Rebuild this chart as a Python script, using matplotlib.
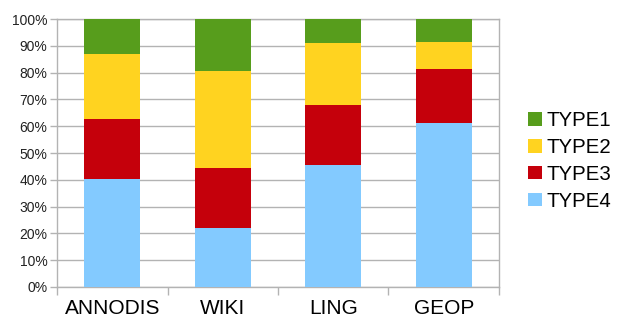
import numpy as np
import matplotlib.pyplot as plt
from matplotlib.ticker import PercentFormatter

plt.rcParams['font.family'] = ['Liberation Sans', 'DejaVu Sans']

corpora = ['ANNODIS', 'WIKI', 'LING', 'GEOP']
series = ['TYPE1', 'TYPE2', 'TYPE3', 'TYPE4']
type4 = [40.4, 22.1, 45.5, 61.2]
type3 = [22.2, 22.2, 22.3, 20.3]
type2 = [24.3, 36.4, 23.2, 9.9]
type1 = [13.1, 19.3, 9.0, 8.6]
colors = {'TYPE1': '#579d1c', 'TYPE2': '#ffd320',
          'TYPE3': '#c5000b', 'TYPE4': '#83caff'}

grid_col = '#b3b3b3'

fig = plt.figure(figsize=(6.17, 3.18), dpi=100)
ax = fig.add_axes([0.0924, 0.0975, 0.7163, 0.8425])

x = np.arange(len(corpora))
width = 0.51
stack = [('TYPE4', type4), ('TYPE3', type3), ('TYPE2', type2), ('TYPE1', type1)]
bottom = np.zeros(len(corpora))
handles = {}
for name, vals in stack:
    vals = np.array(vals)
    b = ax.bar(x, vals, width, bottom=bottom, color=colors[name],
               linewidth=0, zorder=3, label=name)
    handles[name] = b
    bottom += vals

ax.set_xlim(-0.5, len(corpora) - 0.5)
ax.set_ylim(0, 100)
ax.set_yticks(np.arange(0, 101, 10))
ax.yaxis.set_major_formatter(PercentFormatter(decimals=0))
ax.grid(axis='y', color=grid_col, linewidth=1, zorder=0)

ax.set_xticks(x)
ax.set_xticklabels(corpora, fontsize=15)
ax.set_xticks(np.arange(-0.5, len(corpora), 1), minor=True)
ax.tick_params(axis='x', which='major', length=0, pad=9)
ax.tick_params(axis='x', which='minor', length=6, color=grid_col, width=1)
ax.tick_params(axis='y', length=5, color=grid_col, width=1,
               labelsize=10, pad=2, labelcolor='#222222')

for sp in ax.spines.values():
    sp.set_color(grid_col)
    sp.set_linewidth(1)

# legend sits right of the plot, squares + labels
fig.legend([handles[s] for s in series], series,
           loc='center left', bbox_to_anchor=(0.84, 0.494),
           frameon=False, fontsize=14.7, handlelength=0.65, handleheight=0.65,
           handletextpad=0.25, labelspacing=0.38, borderpad=0)

fig.savefig('out.png', dpi=100)
